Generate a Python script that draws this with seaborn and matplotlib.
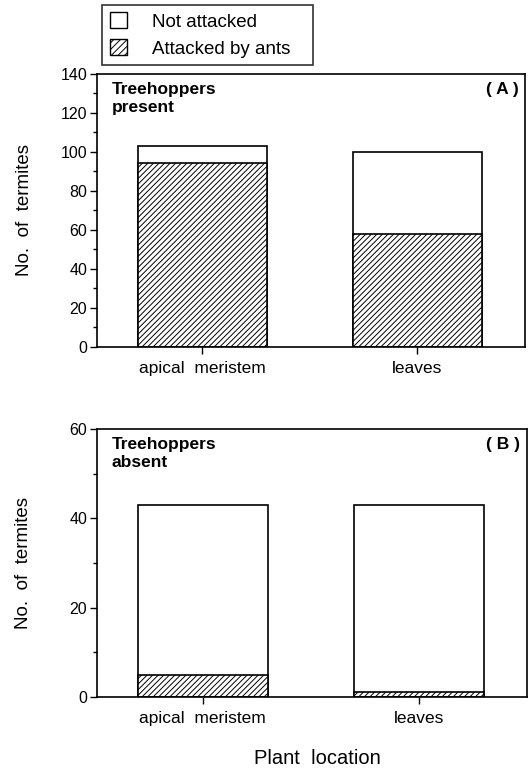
import pandas as pd
import matplotlib
matplotlib.use("Agg")
import matplotlib.pyplot as plt
from matplotlib.patches import Patch
from matplotlib.ticker import MultipleLocator
import seaborn as sns

# Data
locations = ["apical  meristem", "leaves"]
present_total = [103, 100]
present_attacked = [94, 58]
absent_total = [43, 43]
absent_attacked = [5, 1]

HATCH = "//////"

sns.set_style("ticks")
plt.rcParams["font.family"] = ["Liberation Sans", "DejaVu Sans"]
plt.rcParams["hatch.linewidth"] = 0.7
plt.rcParams["hatch.color"] = "black"
plt.rcParams["axes.edgecolor"] = "black"
plt.rcParams["text.color"] = "black"
plt.rcParams["axes.labelcolor"] = "black"
plt.rcParams["xtick.color"] = "black"
plt.rcParams["ytick.color"] = "black"


def draw_panel(ax, total, attacked, ymax, major, minor, title, tag):
    df = pd.DataFrame({"location": locations, "total": total, "attacked": attacked})
    sns.barplot(data=df, x="location", y="total", color="white", saturation=1,
                edgecolor="black", linewidth=1.2, width=0.6, ax=ax)
    sns.barplot(data=df, x="location", y="attacked", color="white", saturation=1,
                edgecolor="black", linewidth=1.2, width=0.6, hatch=HATCH, ax=ax)
    ax.set_xlim(-0.49, 1.5)
    ax.set_ylim(0, ymax)
    ax.yaxis.set_major_locator(MultipleLocator(major))
    ax.yaxis.set_minor_locator(MultipleLocator(minor))
    ax.tick_params(axis="y", which="major", length=5, width=1, labelsize=11.5, pad=2)
    ax.tick_params(axis="y", which="minor", length=3, width=1)
    ax.tick_params(axis="x", length=5, width=1, labelsize=12.5, pad=5)
    for s in ax.spines.values():
        s.set_visible(True)
        s.set_linewidth(1.2)
    ax.set_xlabel("")
    ax.set_ylabel("No.  of  termites", fontsize=13.5)
    ax.yaxis.set_label_coords(-0.15, 0.5)
    ax.text(0.035, 0.97, title, transform=ax.transAxes, ha="left", va="top",
            fontsize=12.5, fontweight="bold", linespacing=1.25)
    ax.text(0.985, 0.97, tag, transform=ax.transAxes, ha="right", va="top",
            fontsize=12.5, fontweight="bold")


fig = plt.figure(figsize=(5.29, 7.76), dpi=100)
ax1 = fig.add_axes([0.183, 0.553, 0.809, 0.352])
ax2 = fig.add_axes([0.183, 0.102, 0.813, 0.345])

draw_panel(ax1, present_total, present_attacked, 140, 20, 10, "Treehoppers\npresent", "( A )")
draw_panel(ax2, absent_total, absent_attacked, 60, 20, 10, "Treehoppers\nabsent", "( B )")

fig.text(0.6, 0.023, "Plant  location", ha="center", va="center", fontsize=14.5)

handles = [Patch(facecolor="white", edgecolor="black", linewidth=1),
           Patch(facecolor="white", edgecolor="black", linewidth=1, hatch="/////")]
leg = fig.legend(handles, ["Not attacked", "Attacked by ants"], loc="upper left",
                 bbox_to_anchor=(0.193, 0.914, 0.399, 0.08), mode="expand",
                 frameon=True, fancybox=False,
                 fontsize=13.5, handlelength=0.95, handleheight=0.95, handletextpad=1.3,
                 borderpad=0.4, borderaxespad=0, labelspacing=0.45)
leg.get_frame().set_edgecolor("black")
leg.get_frame().set_linewidth(1.2)

fig.savefig("out.png", dpi=100)
